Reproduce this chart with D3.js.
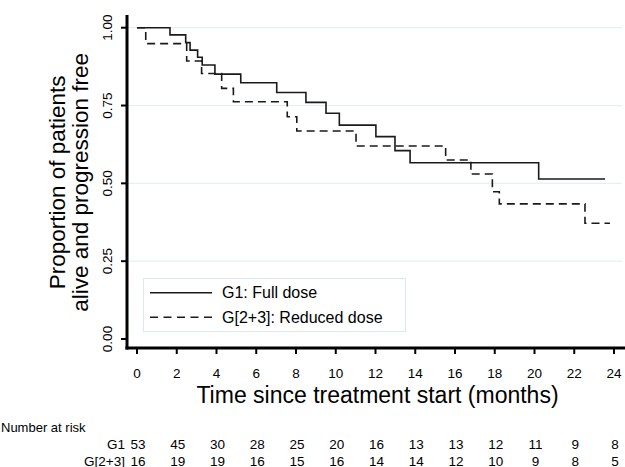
<!DOCTYPE html>
<html>
<head>
<meta charset="utf-8">
<script src="https://cdn.jsdelivr.net/npm/d3@7"></script>
<style>
  body { margin: 0; background: #fff; }
  svg { display: block; font-family: "Liberation Sans", Arial, sans-serif; }
</style>
</head>
<body>
<div id="chart"></div>
<script>
// Kaplan-Meier steps (months, proportion)
var g1Times = [0, 1.66, 2.45, 2.67, 3.05, 3.28, 3.92, 5.22, 7.03, 8.5, 9.51, 10.18, 12.02, 12.98, 13.74, 20.21];
var g1Surv  = [1.0, 0.977, 0.952, 0.928, 0.905, 0.880, 0.851, 0.823, 0.792, 0.760, 0.725, 0.687, 0.650, 0.605, 0.566, 0.514];
var g1End = 23.55;

var g2Times = [0, 0.44, 2.5, 3.25, 4.26, 4.85, 7.56, 8.04, 11.02, 15.53, 16.8, 17.88, 18.23, 22.54];
var g2Surv  = [1.0, 0.949, 0.893, 0.853, 0.805, 0.762, 0.714, 0.668, 0.620, 0.575, 0.530, 0.473, 0.434, 0.372];
var g2End = 23.8;

var xTicks = [0, 2, 4, 6, 8, 10, 12, 14, 16, 18, 20, 22, 24];
var yTicks = [0, 0.25, 0.5, 0.75, 1];
var yGrid = [0.25, 0.5, 0.75, 1];

var riskLabels = ["G1", "G[2+3]"];
var riskG1 = [53, 45, 30, 28, 25, 20, 16, 13, 13, 12, 11, 9, 8];
var riskG2 = [16, 19, 19, 16, 15, 16, 14, 14, 12, 10, 9, 8, 5];

var legendLabels = ["G1: Full dose", "G[2+3]: Reduced dose"];

var W = 625, H = 467;
var x = d3.scaleLinear().domain([0, 24]).range([137, 614]);
var y = d3.scaleLinear().domain([0, 1]).range([339, 27.7]);
var axisX = 127, axisY = 348;

var svg = d3.select("#chart").append("svg").attr("width", W).attr("height", H);
svg.append("rect").attr("width", W).attr("height", H).attr("fill", "#fff");

// gridlines
svg.selectAll(".grid").data(yGrid).enter().append("line")
    .attr("x1", axisX).attr("x2", 622)
    .attr("y1", function(d){ return y(d); }).attr("y2", function(d){ return y(d); })
    .attr("stroke", "#e6eff1").attr("stroke-width", 1.2);

// step curves
function steps(times, surv, end){
    var pts = [];
    times.forEach(function(t, i){ pts.push([t, surv[i]]); });
    pts.push([end, surv[surv.length - 1]]);
    return pts;
}
var line = d3.line().curve(d3.curveStepAfter)
    .x(function(d){ return x(d[0]); })
    .y(function(d){ return y(d[1]); });

svg.append("path").datum(steps(g2Times, g2Surv, g2End))
    .attr("d", line).attr("fill", "none")
    .attr("stroke", "#1a1a1a").attr("stroke-width", 1.6)
    .attr("stroke-dasharray", "8,5");
svg.append("path").datum(steps(g1Times, g1Surv, g1End))
    .attr("d", line).attr("fill", "none")
    .attr("stroke", "#1a1a1a").attr("stroke-width", 1.6);

// axes
svg.append("line").attr("x1", axisX).attr("x2", axisX).attr("y1", 15).attr("y2", axisY + 1.5)
    .attr("stroke", "#000").attr("stroke-width", 3);
svg.append("line").attr("x1", axisX - 1.5).attr("x2", W).attr("y1", axisY).attr("y2", axisY)
    .attr("stroke", "#000").attr("stroke-width", 3);

svg.selectAll(".ytick").data(yTicks).enter().append("line")
    .attr("x1", axisX - 6).attr("x2", axisX)
    .attr("y1", function(d){ return y(d); }).attr("y2", function(d){ return y(d); })
    .attr("stroke", "#000").attr("stroke-width", 2);
svg.selectAll(".ylab").data(yTicks).enter().append("text")
    .attr("transform", function(d){ return "translate(112," + y(d) + ") rotate(-90)"; })
    .attr("text-anchor", "middle").attr("font-size", 13.5).attr("fill", "#000")
    .text(function(d){ return d3.format(".2f")(d); });

svg.selectAll(".xtick").data(xTicks).enter().append("line")
    .attr("x1", function(d){ return x(d); }).attr("x2", function(d){ return x(d); })
    .attr("y1", axisY).attr("y2", axisY + 6)
    .attr("stroke", "#000").attr("stroke-width", 2);
svg.selectAll(".xlab").data(xTicks).enter().append("text")
    .attr("x", function(d){ return x(d); }).attr("y", 378)
    .attr("text-anchor", "middle").attr("font-size", 13.5).attr("fill", "#000")
    .text(function(d){ return d; });

// axis titles
svg.append("text").attr("x", (x(0) + x(24)) / 2 + 2).attr("y", 403)
    .attr("text-anchor", "middle").attr("font-size", 23).attr("fill", "#000")
    .text("Time since treatment start (months)");
var yt = svg.append("text")
    .attr("transform", "translate(0," + ((y(0) + y(1)) / 2 - 1) + ") rotate(-90)")
    .attr("text-anchor", "middle").attr("font-size", 22.5).attr("fill", "#000");
yt.append("tspan").attr("x", 0).attr("y", 65).text("Proportion of patients");
yt.append("tspan").attr("x", 0).attr("y", 88).text("alive and progression free");

// legend
var lg = svg.append("g");
lg.append("rect").attr("x", 143.5).attr("y", 278.5).attr("width", 262).attr("height", 53)
    .attr("fill", "#fff").attr("stroke", "#dce9ec").attr("stroke-width", 1);
legendLabels.forEach(function(lab, i){
    var ly = 292.7 + i * 24.6;
    lg.append("line").attr("x1", 150).attr("x2", 212).attr("y1", ly).attr("y2", ly)
        .attr("stroke", "#1a1a1a").attr("stroke-width", 1.6)
        .attr("stroke-dasharray", i === 1 ? "8,5.5" : null);
    lg.append("text").attr("x", 222).attr("y", ly + 5.5)
        .attr("font-size", 16).attr("fill", "#000").text(lab);
});

// number at risk table
svg.append("text").attr("x", 1).attr("y", 432).attr("font-size", 13).attr("fill", "#000")
    .text("Number at risk");
[riskG1, riskG2].forEach(function(row, i){
    var ry = 449 + i * 16.5;
    svg.append("text").attr("x", 125).attr("y", ry).attr("text-anchor", "end")
        .attr("font-size", 13.5).attr("fill", "#000").text(riskLabels[i]);
    svg.selectAll(".risk" + i).data(row).enter().append("text")
        .attr("x", function(d, j){ return x(xTicks[j]) + 1; }).attr("y", ry)
        .attr("text-anchor", "middle").attr("font-size", 13.5).attr("fill", "#000")
        .text(function(d){ return d; });
});
</script>
</body>
</html>
